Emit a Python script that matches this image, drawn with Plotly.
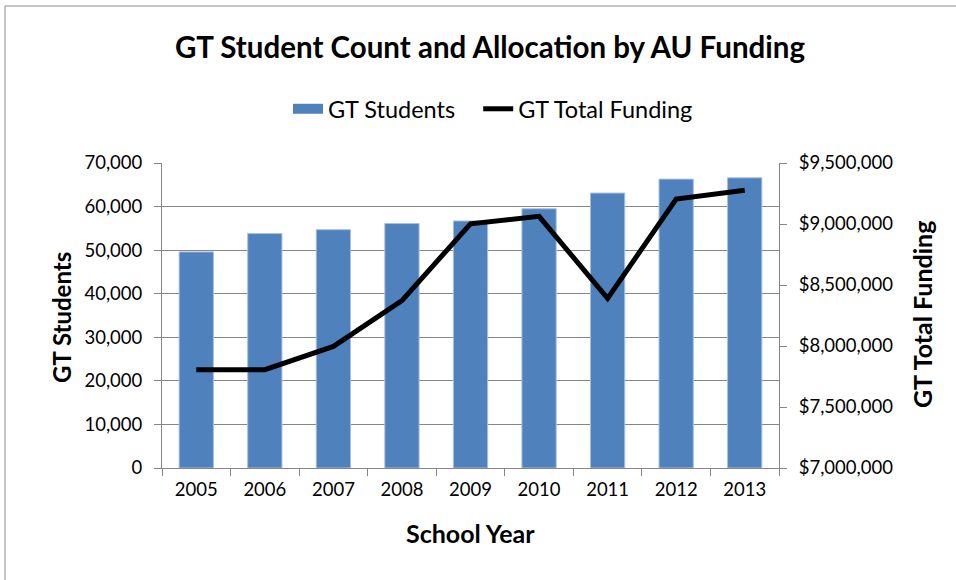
import plotly.graph_objects as go

years = ["2005", "2006", "2007", "2008", "2009", "2010", "2011", "2012", "2013"]
gt_students = [49600, 53800, 54700, 56100, 56700, 59500, 63100, 66300, 66600]
gt_funding = [7806000, 7806000, 7997000, 8372000, 9002000, 9063000, 8390000, 9205000, 9276000]

FONT = "Lato, Carlito, Calibri, sans-serif"
GRID = "#868686"
BLUE = "#4F81BD"

fig = go.Figure()
fig.add_trace(go.Bar(x=years, y=gt_students, name="GT Students",
                     marker=dict(color=BLUE, line=dict(color="#A7C0DE", width=1)),
                     yaxis="y", showlegend=False))
# legend-only entry for the bar series (wide swatch like the original)
fig.add_trace(go.Scatter(x=[None], y=[None], name="GT Students   ", mode="lines",
                         line=dict(color=BLUE, width=14), yaxis="y"))
fig.add_trace(go.Scatter(x=years, y=gt_funding, name="GT Total Funding",
                         mode="lines", line=dict(color="black", width=5),
                         yaxis="y2"))

L, R, T, B = 162, 177, 163, 112
W, H = 956, 580
pw = W - L - R
ph = H - T - B

def px(xp):
    return (xp - L) / pw

def py(yp):
    return (H - B - yp) / ph

TICK = 18.5

fig.update_layout(
    width=W, height=H,
    margin=dict(l=L, r=R, t=T, b=B),
    paper_bgcolor="white", plot_bgcolor="white",
    font=dict(family=FONT, size=TICK, color="black"),
    bargap=0.5,
    showlegend=True,
    legend=dict(orientation="h", x=px(493), y=py(109), xanchor="center", yanchor="middle",
                font=dict(size=23.5), traceorder="normal", itemwidth=30),
    title=dict(text="<b>GT Student Count and Allocation by AU Funding</b>",
               x=490 / W, xref="container", xanchor="center", y=1 - 48 / H, yanchor="middle",
               font=dict(size=29.5, family=FONT)),
    xaxis=dict(type="category", showgrid=False, showline=True, linecolor=GRID, linewidth=1,
               ticks="outside", ticklen=7, tickcolor=GRID, tickson="boundaries",
               tickfont=dict(size=TICK), ticklabelstandoff=5),
    yaxis=dict(range=[0, 70000], dtick=10000, tickformat=",", showgrid=True,
               gridcolor=GRID, gridwidth=1, showline=True, linecolor=GRID, linewidth=1,
               ticks="outside", ticklen=7, tickcolor=GRID, zeroline=False,
               tickfont=dict(size=TICK), ticklabelstandoff=8),
    yaxis2=dict(range=[7000000, 9500000], dtick=500000, tickformat="$,", overlaying="y",
                side="right", showgrid=False, showline=True, linecolor=GRID, linewidth=1,
                ticks="outside", ticklen=7, tickcolor=GRID, zeroline=False,
                tickfont=dict(size=TICK), ticklabelstandoff=8),
    annotations=[
        dict(text="<b>GT Students</b>", x=px(61), y=py(318), xref="paper", yref="paper",
             textangle=-90, showarrow=False, font=dict(size=24), xanchor="center", yanchor="middle"),
        dict(text="<b>GT Total Funding</b>", x=px(922), y=py(315), xref="paper", yref="paper",
             textangle=-90, showarrow=False, font=dict(size=25), xanchor="center", yanchor="middle"),
        dict(text="<b>School Year</b>", x=px(470), y=py(533), xref="paper", yref="paper",
             showarrow=False, font=dict(size=25), xanchor="center", yanchor="middle"),
    ],
    shapes=[
        dict(type="rect", xref="paper", yref="paper", x0=px(5), y0=py(600), x1=px(1000), y1=py(6),
             line=dict(color="#8C8C8C", width=1), fillcolor="rgba(0,0,0,0)", layer="below"),
    ],
)

fig.write_html("out.html", config={"displayModeBar": False},
               post_script="document.body.style.margin='0';document.body.style.overflow='hidden';")
